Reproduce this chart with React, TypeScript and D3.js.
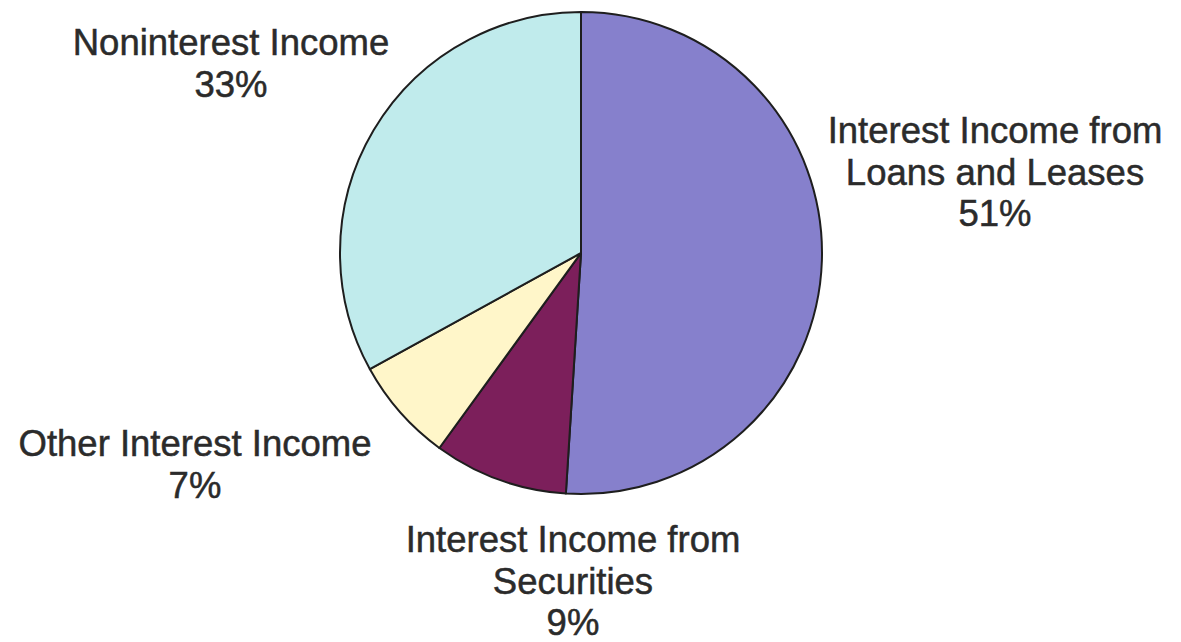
import React from "react";
import * as d3 from "d3";

const categories = [
  "Interest Income from Loans and Leases",
  "Interest Income from Securities",
  "Other Interest Income",
  "Noninterest Income",
];
const values = [51, 9, 7, 33];
const colors = ["#8680CC", "#7C1F5B", "#FFF6C9", "#C0EBEC"];
const labelLines = [
  ["Interest Income from", "Loans and Leases", "51%"],
  ["Interest Income from", "Securities", "9%"],
  ["Other Interest Income", "7%"],
  ["Noninterest Income", "33%"],
];
const labelAnchors: [number, number][] = [
  [995, 143],
  [573, 552],
  [195, 456],
  [231, 55],
];

export default function App() {
  const W = 1181, H = 642;
  const cx = 581, cy = 253, r = 241;
  const pie = d3.pie<number>().sort(null).value((d) => d);
  const arcs = pie(values);
  const arc = d3.arc<d3.PieArcDatum<number>>().innerRadius(0).outerRadius(r);
  return (
    <svg width={W} height={H} style={{ position: "absolute", left: 0, top: 0, background: "#fff" }}>
      <g transform={`translate(${cx},${cy})`}>
        {arcs.map((a, i) => (
          <path key={i} d={arc(a) || ""} fill={colors[i]} stroke="#1e1e1e" strokeWidth={2} strokeLinejoin="round">
            <title>{categories[i]}</title>
          </path>
        ))}
      </g>
      {labelLines.map((lines, i) => (
        <text
          key={i}
          x={labelAnchors[i][0]}
          y={labelAnchors[i][1]}
          textAnchor="middle"
          fontFamily="'Liberation Sans', Arial, sans-serif"
          fontSize={36.5}
          fill="#2b2b2b"
          stroke="#2b2b2b"
          strokeWidth={0.5}
        >
          {lines.map((l, j) => (
            <tspan key={j} x={labelAnchors[i][0]} y={labelAnchors[i][1] + j * 41.5}>
              {l}
            </tspan>
          ))}
        </text>
      ))}
    </svg>
  );
}
